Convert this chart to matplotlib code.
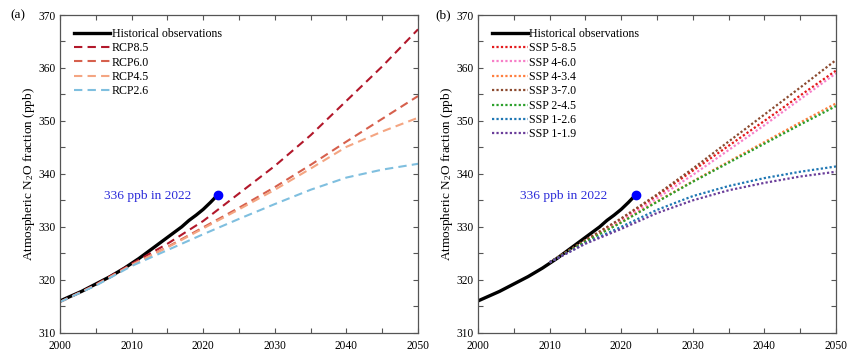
import numpy as np
import matplotlib.pyplot as plt
from matplotlib.ticker import MultipleLocator

plt.rcParams['font.family'] = ['Liberation Serif', 'DejaVu Serif']
plt.rcParams['mathtext.fontset'] = 'custom'
plt.rcParams['mathtext.rm'] = 'Liberation Serif'
plt.rcParams['mathtext.it'] = 'Liberation Serif:italic'

# --- observed N2O (ppb) ---
hist_years = list(range(2000, 2023))
hist_vals = [316.0, 316.6, 317.2, 317.8, 318.5, 319.2, 319.9, 320.6, 321.4, 322.2,
             323.1, 324.0, 325.0, 326.0, 327.0, 328.0, 329.0, 330.0, 331.2, 332.2,
             333.3, 334.6, 336.0]

# --- RCP scenarios (panel a) ---
rcp_years = [2000, 2005, 2010, 2015, 2020, 2025, 2030, 2035, 2040, 2045, 2050]
rcp85 = [315.8, 319.1, 323.0, 326.8, 331.1, 336.3, 341.5, 347.3, 353.8, 360.3, 367.3]
rcp60 = [315.8, 319.0, 322.8, 326.2, 329.9, 333.6, 337.5, 341.7, 346.1, 350.4, 354.7]
rcp45 = [315.8, 319.0, 322.8, 326.1, 329.7, 333.3, 337.0, 341.0, 345.1, 348.0, 350.6]
rcp26 = [315.8, 318.9, 322.6, 325.6, 328.6, 331.5, 334.3, 337.0, 339.3, 340.8, 341.9]

# --- SSP scenarios (panel b) ---
ssp_years = [2010, 2015, 2020, 2025, 2030, 2035, 2040, 2045, 2050]
ssp585 = [323.3, 327.4, 331.4, 335.9, 340.6, 345.3, 350.0, 354.8, 359.5]
ssp460 = [323.3, 327.3, 331.1, 335.4, 339.8, 344.5, 349.2, 354.1, 359.0]
ssp434 = [323.3, 327.2, 330.9, 334.8, 338.6, 342.3, 346.0, 349.7, 353.3]
ssp370 = [323.3, 327.5, 331.6, 336.1, 341.0, 346.1, 351.2, 356.3, 361.5]
ssp245 = [323.3, 327.2, 330.8, 334.7, 338.5, 342.1, 345.7, 349.3, 352.8]
ssp126 = [323.3, 326.9, 330.0, 333.2, 335.8, 337.7, 339.2, 340.4, 341.4]
ssp119 = [323.3, 326.8, 329.6, 332.6, 335.0, 336.9, 338.3, 339.5, 340.4]

rcp_labels = ['RCP8.5', 'RCP6.0', 'RCP4.5', 'RCP2.6']
rcp_colors = ['#b2182b', '#d6604d', '#f4a582', '#7fbfdf']
ssp_labels = ['SSP 5-8.5', 'SSP 4-6.0', 'SSP 4-3.4', 'SSP 3-7.0',
              'SSP 2-4.5', 'SSP 1-2.6', 'SSP 1-1.9']
ssp_colors = ['#e41a1c', '#f77fc8', '#ff7f3f', '#8c4a2f',
              '#2ca02c', '#1f77b4', '#6a3d9a']

fig = plt.figure(figsize=(8.65, 3.6), dpi=100)
ax1 = fig.add_axes([0.0694, 0.0758, 0.4139, 0.8825])
ax2 = fig.add_axes([0.5526, 0.0758, 0.4139, 0.8825])


def style_axis(ax):
    ax.set_xlim(2000, 2050)
    ax.set_ylim(310, 370)
    ax.xaxis.set_major_locator(MultipleLocator(10))
    ax.xaxis.set_minor_locator(MultipleLocator(5))
    ax.yaxis.set_major_locator(MultipleLocator(10))
    ax.yaxis.set_minor_locator(MultipleLocator(5))
    ax.tick_params(which='both', direction='in', top=True, right=True,
                   length=3.5, width=0.8, color='#555555', labelsize=8.3)
    ax.tick_params(axis='x', pad=5)
    ax.tick_params(axis='y', pad=3)
    for s in ax.spines.values():
        s.set_color('#555555')
        s.set_linewidth(0.9)
    ax.set_ylabel('Atmospheric N$_2$O fraction (ppb)', fontsize=9.5, labelpad=1)


legend_kw = dict(loc='upper left', frameon=False, fontsize=8.6, handlelength=3.0,
                 handletextpad=0.15, labelspacing=0.2, borderaxespad=0.4,
                 bbox_to_anchor=(0.012, 0.99))

# Panel (a)
ax1.plot(hist_years, hist_vals, color='black', lw=2.4, label='Historical observations')
for vals, lab, col in zip([rcp85, rcp60, rcp45, rcp26], rcp_labels, rcp_colors):
    ax1.plot(rcp_years, vals, color=col, lw=1.5, ls=(0, (4, 2.5)), label=lab)
ax1.plot(hist_years[-1], hist_vals[-1], 'o', color='blue', ms=6, zorder=5)
ax1.text(2018.3, 335.9, '336 ppb in 2022', color='#2b2bd9', fontsize=9.6,
         ha='right', va='center')
style_axis(ax1)
ax1.legend(**legend_kw)
fig.text(0.012, 0.958, '(a)', fontsize=9.5, va='center')

# Panel (b)
ax2.plot(hist_years, hist_vals, color='black', lw=2.4, label='Historical observations')
for vals, lab, col in zip([ssp585, ssp460, ssp434, ssp370, ssp245, ssp126, ssp119],
                          ssp_labels, ssp_colors):
    ax2.plot(ssp_years, vals, color=col, lw=1.6, ls=(0, (1, 1)), label=lab)
ax2.plot(hist_years[-1], hist_vals[-1], 'o', color='blue', ms=6, zorder=5)
ax2.text(2018.1, 335.9, '336 ppb in 2022', color='#2b2bd9', fontsize=9.6,
         ha='right', va='center')
style_axis(ax2)
ax2.legend(**legend_kw)
fig.text(0.503, 0.958, '(b)', fontsize=9.5, va='center')

fig.savefig('out.png', dpi=100)
